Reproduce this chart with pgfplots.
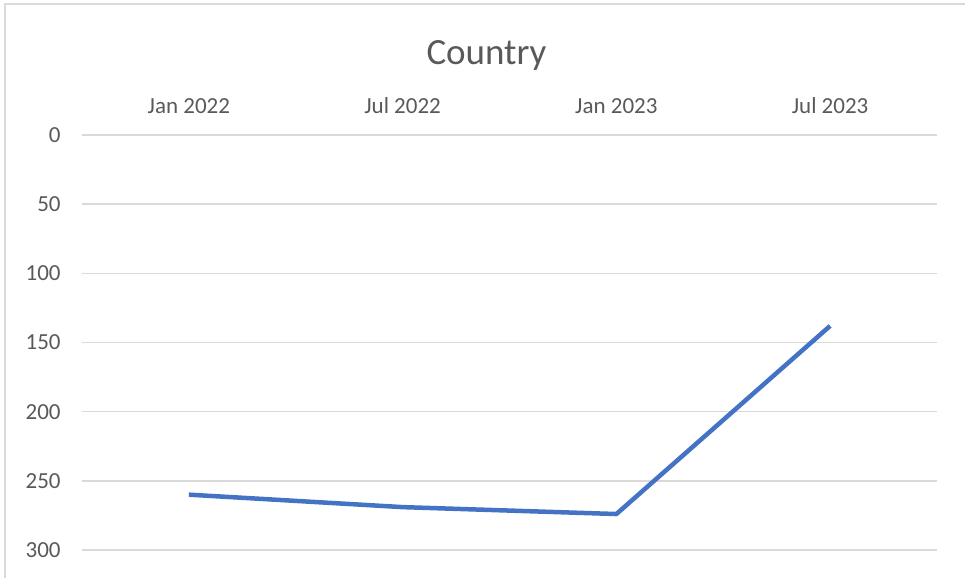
\documentclass[border=0pt]{standalone}
\usepackage{pgfplots}
\pgfplotsset{compat=1.18}
\usepackage{fontspec}
\setmainfont{Carlito}
\definecolor{linec}{HTML}{4472C4}
\definecolor{gridc}{HTML}{D9D9D9}
\definecolor{textc}{HTML}{595959}

\begin{document}
\begin{tikzpicture}
\begin{axis}[
    name=ax,
    at={(0pt,0pt)}, anchor=south west,
    scale only axis,
    width=427.5pt, height=207.5pt,
    xmin=-0.5, xmax=3.5,
    ymin=0, ymax=300,
    y dir=reverse,
    xtick={0,1,2,3},
    xticklabels={Jan 2022, Jul 2022, Jan 2023, Jul 2023},
    xticklabel pos=upper,
    ytick={0,50,100,150,200,250,300},
    ymajorgrids=true,
    grid style={gridc, line width=0.75pt},
    axis line style={draw=none},
    major tick length=0pt,
    tick label style={font=\fontsize{11.5}{13}\selectfont, text=textc},
    /pgf/number format/assume math mode=true,
    xticklabel style={anchor=base, inner sep=0pt, yshift=11pt},
    yticklabel style={anchor=east, inner sep=0pt, xshift=-10.5pt},
    clip=false,
]
\addplot[linec, line width=2.25pt, line join=round] coordinates {
    (0, 260) (1, 269) (2, 274) (3, 138)
};
\end{axis}
\node[anchor=base, text=textc, font=\fontsize{18.5}{22}\selectfont, inner sep=0pt] at (202.25pt, 242.5pt) {Country};
\draw[gridc, line width=0.75pt] (-38.5pt,-14pt) -- (-38.5pt,273pt) -- (441.5pt,273pt);
\pgfresetboundingbox
\path (-41pt,-14pt) rectangle (441.5pt,275pt);
\end{tikzpicture}
\end{document}
